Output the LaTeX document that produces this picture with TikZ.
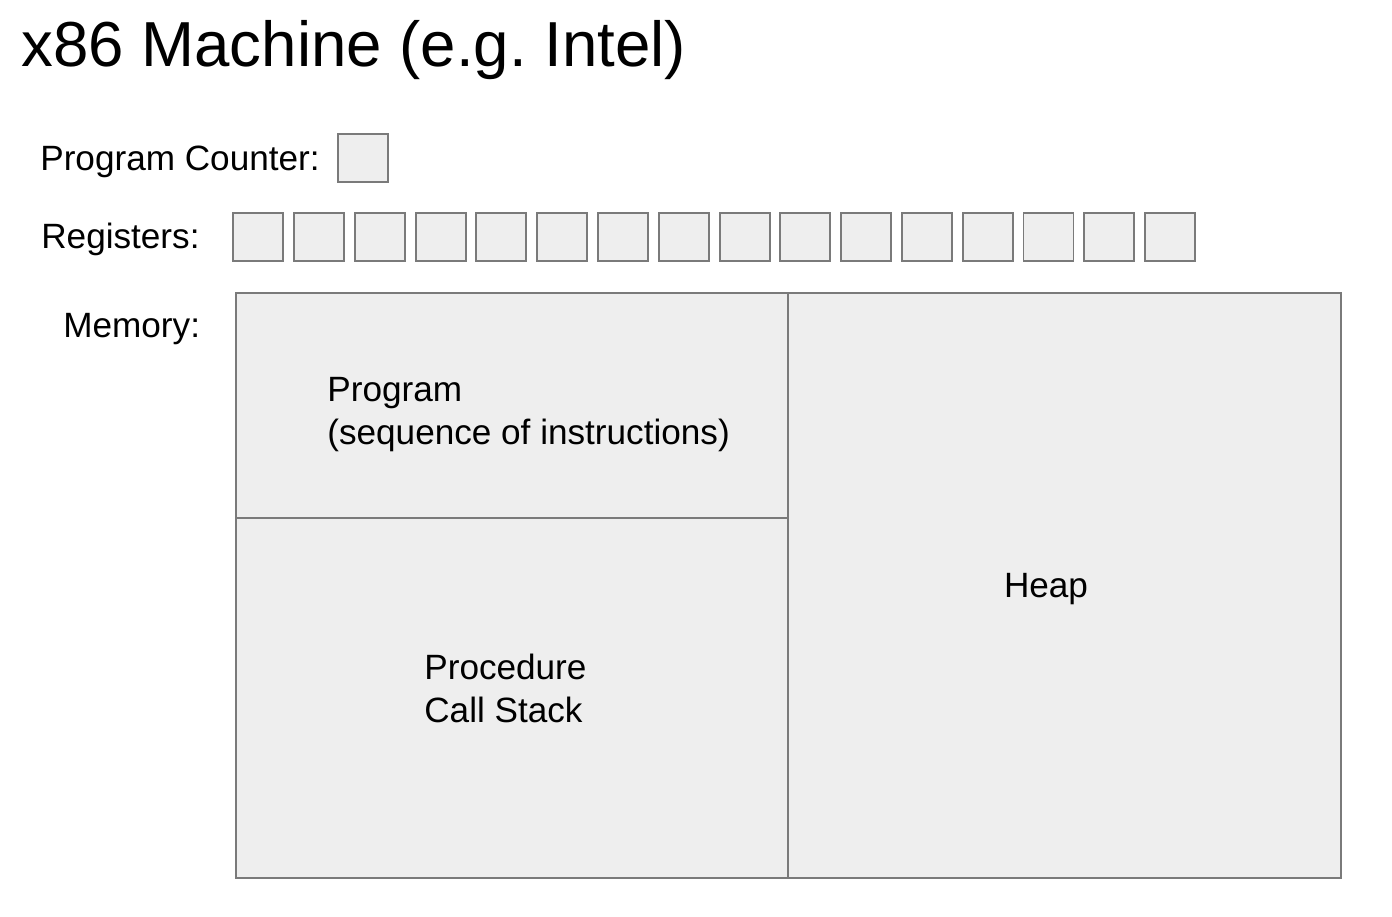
\documentclass[tikz,border=0pt]{standalone}
\usepackage{fontspec}
\setmainfont{Liberation Sans}
\usepackage{xcolor}
\usepackage{tikz}
\usetikzlibrary{matrix,positioning}
\definecolor{boxfill}{HTML}{EEEEEE}
\definecolor{boxline}{HTML}{7A7A7A}

\begin{document}
\begin{tikzpicture}[x=0.2mm, y=-0.2mm,
    every node/.style={font=\fontsize{20}{24}\selectfont, inner sep=0pt},
    cell/.style={draw=boxline, line width=1.1pt, fill=boxfill, minimum width=10mm, minimum height=9.7mm},
    membox/.style={draw=boxline, line width=1.1pt, fill=boxfill, outer sep=0pt, minimum width=110.4mm}
  ]
     \useasboundingbox[fill=white] (0,0) rectangle (1392,916);
     \node[anchor=base west, font=\fontsize{36.2}{43}\selectfont] (title) at (21,66) {x86 Machine (e.g.\ Intel)};
     \node[anchor=base west] (pclabel) at (40,170) {Program Counter:};
     \node[cell] (PC) at (363,158) {};
     \node[anchor=base west] (reglabel) at (41,248) {Registers:};
     \matrix (R) [matrix of nodes, anchor=west, inner sep=0pt,
        nodes={cell},
        column sep=1.77mm,
        nodes in empty cells] at (232,237)
      {
        & & & & & & & & & & & & & & & \\
      };
     \node[anchor=base west] (memlabel) at (63,337) {Memory:};
     \node[membox, minimum height=45mm, anchor=north west] (prog) at (236,293) {};
     \node[membox, minimum height=72mm, below=0pt of prog] (stack) {};
     \node[membox, minimum width=110.6mm, minimum height=117mm, anchor=north west] (heap) at (prog.north east) {};
     % last line sits on the base anchor
     \node[anchor=base west, align=left] (progtext) at (327,444) {Program\\(sequence of instructions)};
     \node[anchor=base west, align=left] (stacktext) at (424,722) {Procedure\\Call Stack};
     \node[anchor=base] (heaptext) at (1046,597) {Heap};
  \end{tikzpicture}
\end{document}
